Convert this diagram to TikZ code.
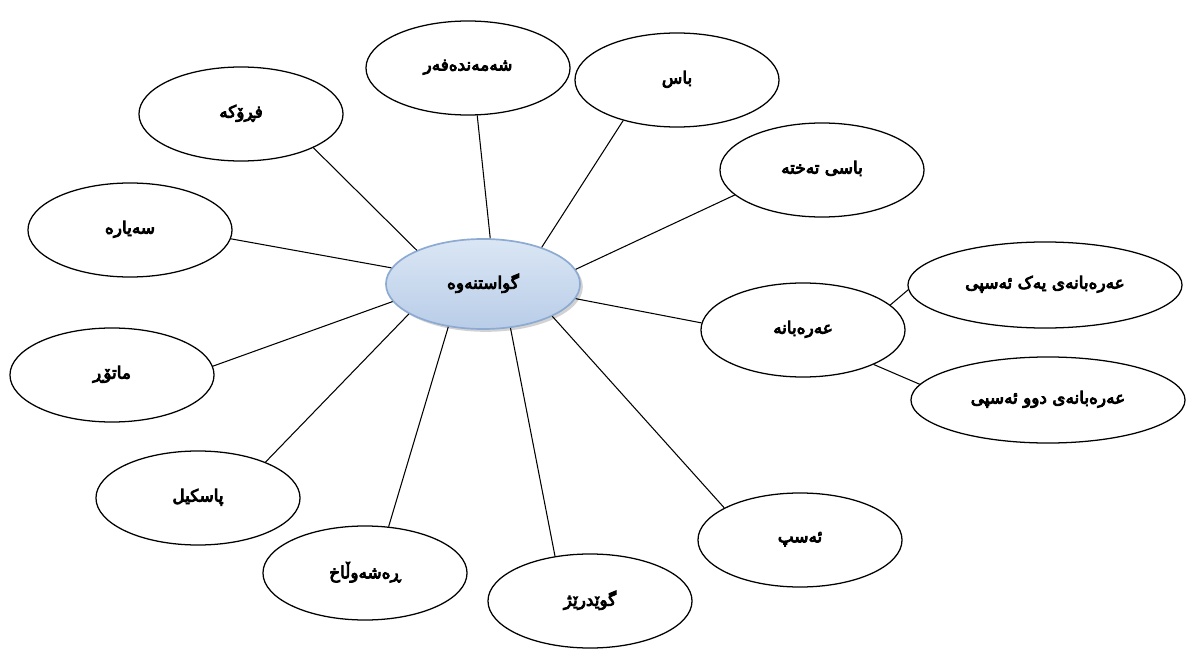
\documentclass[tikz,border=0pt]{standalone}
\usepackage{fontspec}
\usetikzlibrary{shapes.geometric,shadows}
\TeXXeTstate=1
\newfontfamily\kufont[Script=Arabic, FakeBold=5]{DejaVu Sans}
\newcommand{\kurd}[1]{\raisebox{4pt}{\kufont\beginR #1\endR}}
\definecolor{hubline}{RGB}{140,170,210}
\definecolor{hubtop}{RGB}{218,230,244}
\definecolor{hubbot}{RGB}{185,205,232}

\begin{document}
\begin{tikzpicture}[x=0.025cm, y=-0.025cm,
    every node/.style={inner sep=0pt, font=\fontsize{12}{14}\selectfont},
    item/.style={draw, ellipse, line width=0.9pt, fill=white, minimum width=5.1cm, minimum height=2.35cm},
    wide/.style={item, minimum width=6.85cm, minimum height=2.15cm},
    hub/.style={draw=hubline, ellipse, line width=1.2pt, top color=hubtop, bottom color=hubbot,
      drop shadow={shadow xshift=2pt, shadow yshift=-2pt, fill=black!35},
      minimum width=4.85cm, minimum height=2.25cm},
    link/.style={line width=0.75pt}]
\useasboundingbox (0,0) rectangle (1193,650);

\node [hub] (hub) at (483,284) {\kurd{گواستنەوە}};

\node [item] (plane) at (241,114) {\kurd{فڕۆکە}};
\node [item] (train) at (468,68) {\kurd{شەمەندەفەر}};
\node [item] (bus) at (677,80) {\kurd{باس}};
\node [item] (minibus) at (822,170) {\kurd{باسی تەختە}};
\node [item] (car) at (130,230) {\kurd{سەیارە}};
\node [item] (cart) at (803,330) {\kurd{عەرەبانە}};
\node [wide] (cartone) at (1045,285) {\kurd{عەرەبانەی یەک ئەسپی}};
\node [wide] (carttwo) at (1048,400) {\kurd{عەرەبانەی دوو ئەسپی}};
\node [item] (motor) at (112,375) {\kurd{ماتۆڕ}};
\node [item] (bike) at (198,498) {\kurd{پاسکیل}};
\node [item] (cattle) at (365,573) {\kurd{ڕەشەوڵاخ}};
\node [item] (donkey) at (590,601) {\kurd{گوێدرێژ}};
\node [item] (horse) at (800,540) {\kurd{ئەسپ}};

% spokes
\draw [link] (hub.153) -- (plane.-25);
\draw [link] (hub.81) -- (train.-79);
\draw [link] (hub.32) -- (bus.-143);
\draw [link] (hub.9) -- (minibus.196);
\draw [link] (hub.170) -- (car.-5);
\draw [link] (hub.-9) -- (cart.176);
\draw [link] (hub.191) -- (motor.5);
\draw [link] (hub.202) -- (bike.28);
\draw [link] (hub.231) -- (cattle.63);
\draw [link] (hub.-58) -- (donkey.128);
\draw [link] (hub.-25) -- (horse.157);
\draw [link] (cart.16) -- (cartone.182);
\draw [link] (cart.-26) -- (carttwo.173);

\end{tikzpicture}
\end{document}
